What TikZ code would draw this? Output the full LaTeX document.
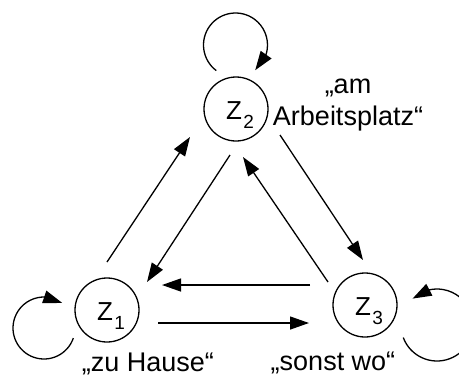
\documentclass[tikz,border=0pt]{standalone}
\usepackage{fontspec}
\setmainfont{Liberation Sans}
\usetikzlibrary{arrows.meta,bending,calc}
\begin{document}
\begin{tikzpicture}[x=1bp,y=-1bp,
  state/.style={draw, circle, line width=1.3bp, minimum size=64bp, inner sep=0pt},
  statename/.style={inner sep=0pt, font=\fontsize{26bp}{30bp}\selectfont},
  trans/.style={line width=1.3bp, -{Triangle[length=19bp,width=13bp]}},
  selfloop/.style={line width=1.3bp, -{Triangle[length=19bp,width=13bp,flex]}},
  tag/.style={font=\fontsize{27bp}{32bp}\selectfont, inner sep=0pt, anchor=base, align=center}
]
\newcommand{\zsub}[1]{\kern1.5bp\raisebox{-9.5bp}{\fontsize{19bp}{19bp}\selectfont #1}}
\useasboundingbox (0,0) rectangle (459,381);

% states
\node[state] (z1) at (107,310) {};
\node[state] (z2) at (236,109) {};
\node[state] (z3) at (365,305) {};
\node[statename] (n1) at ($(z1)+(4,6)$) {Z\zsub{1}};
\node[statename] (n2) at ($(z2)+(4,6)$) {Z\zsub{2}};
\node[statename] (n3) at ($(z3)+(4,6)$) {Z\zsub{3}};

% labels
\node[tag] (t2) at (348,125) {„am\\Arbeitsplatz“};
\node[tag] (t1) at (148,371) {„zu Hause“};
\node[tag] (t3) at (333,370) {„sonst wo“};

% transitions between states
\draw[trans] ($(z1)+(0,-48)$) -- ($(z2)+(-46,28)$);
\draw[trans] ($(z2)+(-6,46)$) -- ($(z1)+(40,-28)$);
\draw[trans] ($(z2)+(44,26)$) -- ($(z3)+(-2,-45)$);
\draw[trans] ($(z3)+(-37,-23)$) -- ($(z2)+(7,48)$);
\draw[trans] ($(z3)+(-55,-20)$) -- ($(z1)+(55,-25)$);
\draw[trans] ($(z1)+(51,13)$) -- ($(z3)+(-56,18)$);

% self loops
\draw[selfloop] ($(z2)+(-0.5,-64)+(127:32)$) arc[start angle=127, end angle=412, radius=32];
\draw[selfloop] ($(z1)+(-63,18)+(19:31)$) arc[start angle=19, end angle=306, radius=31];
\draw[selfloop] ($(z3)+(72,20)+(159.6:36)$) arc[start angle=159.6, end angle=-132.8, radius=36];
\end{tikzpicture}
\end{document}
